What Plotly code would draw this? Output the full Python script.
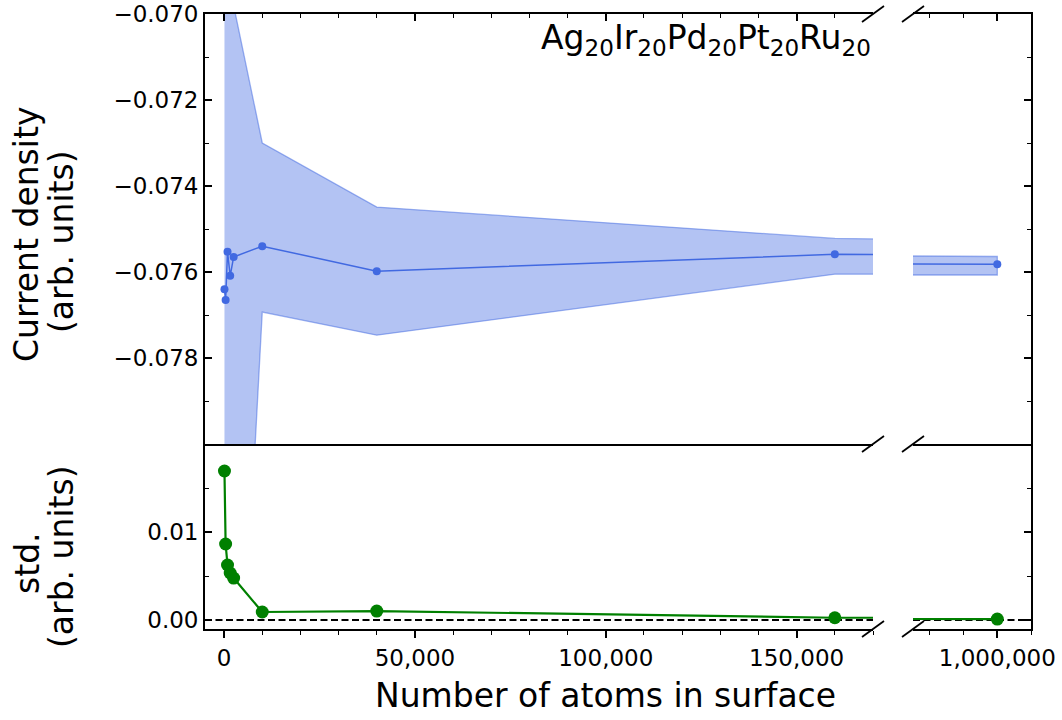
import plotly.graph_objects as go

# ---------------- data ----------------
n_atoms = [100, 400, 900, 1600, 2500, 10000, 40000, 160000, 1000000]
mean_current = [-0.07640, -0.07665, -0.07553, -0.07609, -0.07565,
                -0.07540, -0.07598, -0.07559, -0.07582]
upper_current = [-0.0450, -0.0580, -0.0620, -0.0660, -0.0698,
                 -0.07300, -0.07449, -0.07522, -0.07564]
lower_current = [-0.1100, -0.0970, -0.0920, -0.0900, -0.0882,
                 -0.07693, -0.07747, -0.07605, -0.07607]
std_current = [0.01693, 0.00864, 0.00625, 0.00534, 0.00477,
               0.00091, 0.00102, 0.00026, 0.00011]

top_yticks = [-0.078, -0.076, -0.074, -0.072, -0.070]
bottom_yticks = [0.00, 0.01]
formula = "Ag<sub>20</sub>Ir<sub>20</sub>Pd<sub>20</sub>Pt<sub>20</sub>Ru<sub>20</sub>"
x_title = "Number of atoms in surface"
top_title = ["Current density", "(arb. units)"]
bottom_title = ["std.", "(arb. units)"]

# ---------------- layout constants ----------------
W, H = 1062, 720
FONT = "DejaVu Sans"
BLUE = "#4169E1"
FILL = "rgba(65,105,225,0.40)"
EDGE = "rgba(65,105,225,0.50)"
GREEN = "green"
TICK_SIZE = 23
TITLE_SIZE = 33

XL = [205 / W, 873 / W]
XR = [913 / W, 1031 / W]
YT = [1 - 444 / H, 1 - 14 / H]
YB = [1 - 629 / H, 1 - 444 / H]

left_range = [-5000, 170000]
right_range = [975000, 1010000]
top_range = [-0.0800, -0.0700]
bottom_range = [-0.00102, 0.0200]

fig = go.Figure()

# band + mean line (top row, both panels)
for xa, ya in [("x", "y"), ("x2", "y2")]:
    fig.add_trace(go.Scatter(
        x=n_atoms + n_atoms[::-1],
        y=upper_current + lower_current[::-1],
        fill="toself", fillcolor=FILL, mode="lines",
        line=dict(color=EDGE, width=1.3),
        xaxis=xa, yaxis=ya, hoverinfo="skip", showlegend=False))
    fig.add_trace(go.Scatter(
        x=n_atoms, y=mean_current, mode="lines+markers",
        line=dict(color=BLUE, width=1.5),
        marker=dict(color=BLUE, size=8),
        xaxis=xa, yaxis=ya, showlegend=False))

# std (bottom row, both panels)
for xa, ya in [("x3", "y3"), ("x4", "y4")]:
    fig.add_trace(go.Scatter(
        x=n_atoms, y=std_current, mode="lines+markers",
        line=dict(color=GREEN, width=2.2),
        marker=dict(color=GREEN, size=13),
        xaxis=xa, yaxis=ya, showlegend=False))

spine = dict(showline=True, linecolor="black", linewidth=1.8,
             showgrid=False, zeroline=False, tickcolor="black",
             tickwidth=1.5, ticklen=7, automargin=False,
             tickfont=dict(family=FONT, size=TICK_SIZE, color="black"))


def xaxis(domain, rng, anchor, side, ticks, labels, mirror):
    return dict(spine, domain=domain, range=rng, anchor=anchor, side=side,
                mirror=mirror, ticks=ticks, tickmode="linear", tick0=0,
                dtick=50000, tickformat=",d", showticklabels=labels,
                minor=dict(ticks=ticks, ticklen=4, tickwidth=1.2,
                           tickcolor="black", tickmode="linear",
                           tick0=0, dtick=10000, showgrid=False))


def yaxis(domain, rng, anchor, side, tickvals, fmt, minor_dt, labels):
    return dict(spine, domain=domain, range=rng, anchor=anchor, side=side,
                mirror=False, ticks="inside", tickmode="array",
                tickvals=tickvals, tickformat=fmt, showticklabels=labels,
                minor=dict(ticks="inside", ticklen=4, tickwidth=1.2,
                           tickcolor="black", tickmode="linear",
                           tick0=0, dtick=minor_dt, showgrid=False))


fig.update_layout(
    template="none",
    width=W, height=H, autosize=False,
    margin=dict(l=0, r=0, t=0, b=0, pad=0),
    paper_bgcolor="white", plot_bgcolor="white",
    font=dict(family=FONT, color="black"),
    showlegend=False,
    xaxis=xaxis(XL, left_range, "y", "top", "inside", False, True),
    xaxis2=xaxis(XR, right_range, "y2", "top", "inside", False, True),
    xaxis3=xaxis(XL, left_range, "y3", "bottom", "outside", True, False),
    xaxis4=xaxis(XR, right_range, "y4", "bottom", "outside", True, False),
    yaxis=yaxis(YT, top_range, "x", "left", top_yticks, ".3f", 0.001, True),
    yaxis2=yaxis(YT, top_range, "x2", "right", top_yticks, ".3f", 0.001, False),
    yaxis3=yaxis(YB, bottom_range, "x3", "left", bottom_yticks, ".2f", 0.005, True),
    yaxis4=yaxis(YB, bottom_range, "x4", "right", bottom_yticks, ".2f", 0.005, False),
)

shapes = []
# dashed zero line in bottom panels
for xa, ya in [("x3", "y3"), ("x4", "y4")]:
    shapes.append(dict(type="line", xref=f"{xa} domain", yref=ya,
                       x0=0, x1=1, y0=0, y1=0, layer="below",
                       line=dict(color="black", width=2, dash="7px,3.5px")))

# break marks on every horizontal spine at both sides of the gap
dx, dy = 11 / W, 8 / H
for yc in [YT[1], YT[0], YB[0]]:
    for xc in [XL[1], XR[0]]:
        shapes.append(dict(type="line", xref="paper", yref="paper",
                           x0=xc - dx, y0=yc - dy, x1=xc + dx, y1=yc + dy,
                           line=dict(color="black", width=1.8)))
fig.update_layout(shapes=shapes)

ann = []
ann.append(dict(text=formula, x=873 / W, y=YT[1] - 2 / H, xref="paper",
                yref="paper", xanchor="right", yanchor="top", showarrow=False,
                font=dict(family=FONT, size=TITLE_SIZE, color="black")))
ann.append(dict(text=x_title, x=605 / W, y=1 - 695 / H, xref="paper",
                yref="paper", xanchor="center", yanchor="middle",
                showarrow=False,
                font=dict(family=FONT, size=TITLE_SIZE, color="black")))
for txt, xc, yc in [(top_title[0], 27, 235), (top_title[1], 61, 242),
                    (bottom_title[0], 27, 563), (bottom_title[1], 61, 557)]:
    ann.append(dict(text=txt, x=xc / W, y=1 - yc / H, xref="paper",
                    yref="paper", xanchor="center", yanchor="middle",
                    textangle=-90, showarrow=False,
                    font=dict(family=FONT, size=TITLE_SIZE, color="black")))
fig.update_layout(annotations=ann)

fig.write_html("out.html")
